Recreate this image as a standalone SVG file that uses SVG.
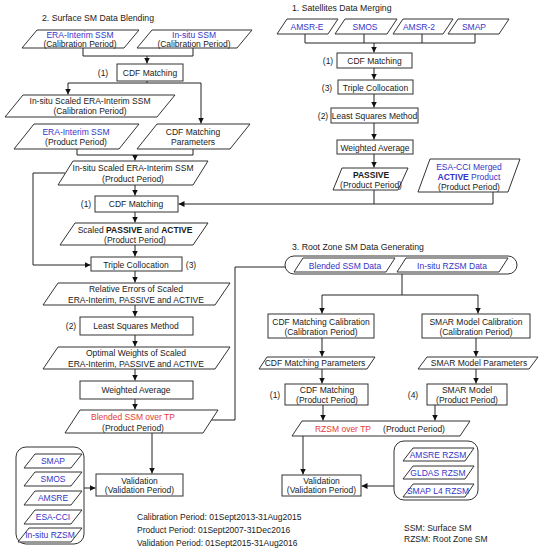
<svg xmlns="http://www.w3.org/2000/svg" width="545" height="550" viewBox="0 0 545 550">
<style>
text{font-family:"Liberation Sans",Arial,sans-serif;font-size:8.5px;fill:#1a1a1a;text-anchor:middle}
.t{font-size:8.7px;text-anchor:start}
.l{text-anchor:start}
.b{fill:#3535c8}
.r{fill:#e53a35}
.bd{font-weight:bold}
.s{fill:#fff;stroke:#333;stroke-width:1}
.c{fill:none;stroke:#222;stroke-width:1}
.a{fill:none;stroke:#222;stroke-width:1;marker-end:url(#ah)}
</style>
<defs>
<marker id="ah" viewBox="0 0 10 10" refX="10" refY="5" markerWidth="6" markerHeight="6" orient="auto" markerUnits="userSpaceOnUse"><path d="M0,0L10,5L0,10z" fill="#111"/></marker>
</defs>
<rect width="545" height="550" fill="#fff"/>

<text class="t" x="42" y="21">2. Surface SM Data Blending</text>
<text class="t" x="292" y="11">1. Satellites Data Merging</text>
<text class="t" x="292" y="250">3. Root Zone SM Data Generating</text>

<g id="connectors">
<path class="c" d="M83,48V56H193V48"/>
<path class="a" d="M147,56V63.5"/>
<path class="c" d="M147,81V83M68,83H201"/>
<path class="a" d="M68,83V94.5"/>
<path class="a" d="M201,83V123.5"/>
<path class="c" d="M77,149V155H193V149"/>
<path class="a" d="M135,155V160.5"/>
<path class="a" d="M65,173H33V265H90.5"/>
<path class="a" d="M135,185V195.5"/>
<path class="a" d="M135,212V222.5"/>
<path class="a" d="M135,245V256.5"/>
<path class="a" d="M135,271V282.5"/>
<path class="a" d="M135,305V316.5"/>
<path class="a" d="M135,335V346.5"/>
<path class="a" d="M135,369V380.5"/>
<path class="a" d="M135,399V409.5"/>
<path class="a" d="M152,433V473.5"/>
<path class="a" d="M84,488H95.5"/>
<path class="a" d="M211,420H235V267H295"/>
<path class="c" d="M305,34V43M364,34V43M422,34V43M475,34V43M305,43H475"/>
<path class="a" d="M374,43V52.5"/>
<path class="a" d="M374,68V79.5"/>
<path class="a" d="M374,94V107.5"/>
<path class="a" d="M374,123V139.5"/>
<path class="a" d="M374,154V167.5"/>
<path class="c" d="M374,190V204"/>
<path class="a" d="M493,192V204H178.5"/>
<path class="c" d="M402,274V295M322,295H478"/>
<path class="a" d="M322,295V313.5"/>
<path class="a" d="M478,295V313.5"/>
<path class="a" d="M322,338V356.5"/>
<path class="a" d="M476,338V356.5"/>
<path class="a" d="M322,369V383.5"/>
<path class="a" d="M476,369V383.5"/>
<path class="a" d="M323,405V420.5"/>
<path class="a" d="M435,405V420.5"/>
<path class="a" d="M303,436V474.5"/>
<path class="a" d="M394,486H361.5"/>
</g>

<!-- Section 2 -->
<g id="era-cal"><polygon class="s" points="37,30 139,30 124,48 22,48"/><text x="80" y="38" class="b">ERA-Interim SSM</text><text x="80" y="46.5">(Calibration Period)</text></g>
<g id="insitu-cal"><polygon class="s" points="152,30 252,30 237,48 137,48"/><text x="194" y="38" class="b">In-situ SSM</text><text x="194" y="46.5">(Calibration Period)</text></g>
<g id="cdf1"><rect class="s" x="117" y="64" width="66" height="17"/><text x="150" y="75.5">CDF Matching</text><text x="103" y="75.5">(1)</text></g>
<g id="scaled-cal"><polygon class="s" points="23,95 175,95 157,117 5,117"/><text x="90" y="104">In-situ Scaled ERA-Interim SSM</text><text x="90" y="114">(Calibration Period)</text></g>
<g id="era-prod"><polygon class="s" points="34,124 139,124 119,149 14,149"/><text x="76" y="135" class="b">ERA-Interim SSM</text><text x="76" y="145">(Product Period)</text></g>
<g id="cdf-params"><polygon class="s" points="157,124 250,124 230,149 137,149"/><text x="193" y="135">CDF Matching</text><text x="193" y="145">Parameters</text></g>
<g id="scaled-prod"><polygon class="s" points="73,161 208,161 193,185 58,185"/><text x="133" y="171">In-situ Scaled ERA-Interim SSM</text><text x="133" y="181.5">(Product Period)</text></g>
<g id="cdf2"><rect class="s" x="95" y="196" width="83" height="16"/><text x="136" y="207">CDF Matching</text><text x="86" y="207">(1)</text></g>
<g id="scaled-pa"><polygon class="s" points="75,223 208,223 193,245 60,245"/><text x="135" y="232.5">Scaled <tspan class="bd">PASSIVE</tspan> and <tspan class="bd">ACTIVE</tspan></text><text x="135" y="242.5">(Product Period)</text></g>
<g id="tc2"><rect class="s" x="91" y="257" width="91" height="14"/><text x="136" y="267.5">Triple Collocation</text><text x="191" y="268">(3)</text></g>
<g id="rel-err"><polygon class="s" points="58,283 230,283 215,305 43,305"/><text x="136" y="291.5">Relative Errors of Scaled</text><text x="136" y="302.5">ERA-Interim, PASSIVE and ACTIVE</text></g>
<g id="lsm2"><rect class="s" x="80" y="317" width="113" height="18"/><text x="136" y="329">Least Squares Method</text><text x="71" y="329">(2)</text></g>
<g id="opt-w"><polygon class="s" points="58,347 230,347 215,369 43,369"/><text x="136" y="355.5">Optimal Weights of Scaled</text><text x="136" y="366.5">ERA-Interim, PASSIVE and ACTIVE</text></g>
<g id="wa2"><rect class="s" x="80" y="381" width="113" height="18"/><text x="136" y="393">Weighted Average</text></g>
<g id="blended"><polygon class="s" points="80,410 218,410 203,433 65,433"/><text x="133" y="420" class="r">Blended SSM over TP</text><text x="133" y="430.5">(Product Period)</text></g>
<g id="valid1"><rect class="s" x="96" y="474" width="87" height="22"/><text x="139.5" y="483.5">Validation</text><text x="139.5" y="493">(Validation Period)</text></g>
<g id="refs1"><rect class="s" x="16" y="447" width="68" height="97" rx="10"/>
<polygon class="s" points="35,454 82,454 71,468 24,468"/><text x="53" y="464" class="b">SMAP</text>
<polygon class="s" points="35,472 82,472 71,486 24,486"/><text x="53" y="482" class="b">SMOS</text>
<polygon class="s" points="35,491 82,491 71,505 24,505"/><text x="53" y="501" class="b">AMSRE</text>
<polygon class="s" points="35,510 82,510 71,524 24,524"/><text x="53" y="520" class="b">ESA-CCI</text>
<polygon class="s" points="29,528 82,528 71,542 18,542"/><text x="50" y="538" class="b">In-situ RZSM</text></g>

<!-- Section 1 -->
<g id="amsre"><polygon class="s" points="287,19 338,19 328,34 277,34"/><text x="307" y="30" class="b">AMSR-E</text></g>
<g id="smos"><polygon class="s" points="345,19 397,19 387,34 335,34"/><text x="365" y="30" class="b">SMOS</text></g>
<g id="amsr2"><polygon class="s" points="403,19 453,19 443,34 393,34"/><text x="419" y="30" class="b">AMSR-2</text></g>
<g id="smap"><polygon class="s" points="458,19 509,19 499,34 448,34"/><text x="474" y="30" class="b">SMAP</text></g>
<g id="cdf0"><rect class="s" x="337" y="53" width="75" height="15"/><text x="374.5" y="64">CDF Matching</text><text x="328" y="64">(1)</text></g>
<g id="tc0"><rect class="s" x="338" y="80" width="75" height="14"/><text x="375.5" y="90.5">Triple Collocation</text><text x="327" y="90.5">(3)</text></g>
<g id="lsm0"><rect class="s" x="331" y="108" width="87" height="15"/><text x="374.5" y="119">Least Squares Method</text><text x="323" y="119">(2)</text></g>
<g id="wa0"><rect class="s" x="337" y="140" width="76" height="14"/><text x="375" y="150.5">Weighted Average</text></g>
<g id="passive"><polygon class="s" points="342,168 408,168 398,190 333,190"/><text x="371" y="177.5" class="bd">PASSIVE</text><text x="371" y="187.5">(Product Period)</text></g>
<g id="active"><polygon class="s" points="430,159 520,159 508,192 418,192"/><text x="469" y="170" class="b">ESA-CCI Merged</text><text x="469" y="180" class="b"><tspan class="bd">ACTIVE</tspan> Product</text><text x="469" y="189.5">(Product Period)</text></g>

<!-- Section 3 -->
<g id="inputs3"><rect class="s" x="285" y="256" width="232" height="18" rx="9"/>
<polygon class="s" points="303,258 395,258 386,272 294,272"/><text x="345" y="268.5" class="b">Blended SSM Data</text>
<polygon class="s" points="406,258 508,258 499,272 397,272"/><text x="452" y="268.5" class="b">In-situ RZSM Data</text></g>
<g id="cdf-cal"><rect class="s" x="268" y="314" width="106" height="24"/><text x="321" y="325">CDF Matching Calibration</text><text x="321" y="334.5">(Calibration Period)</text></g>
<g id="smar-cal"><rect class="s" x="422" y="314" width="108" height="24"/><text x="476" y="325">SMAR Model Calibration</text><text x="476" y="334.5">(Calibration Period)</text></g>
<g id="cdf-par3"><polygon class="s" points="267,357 375,357 367,369 259,369"/><text x="315" y="366">CDF Matching Parameters</text></g>
<g id="smar-par"><polygon class="s" points="427,357 538,357 529,369 418,369"/><text x="479" y="366">SMAR Model Parameters</text></g>
<g id="cdf3"><rect class="s" x="285" y="384" width="83" height="21"/><text x="327" y="393">CDF Matching</text><text x="327" y="402.5">(Product Period)</text><text x="275" y="398">(1)</text></g>
<g id="smar"><rect class="s" x="427" y="384" width="80" height="21"/><text x="467" y="393">SMAR Model</text><text x="467" y="402.5">(Product Period)</text><text x="413" y="398">(4)</text></g>
<g id="rzsm"><polygon class="s" points="302,421 470,421 460,436 292,436"/><text x="343" y="431.5" class="r">RZSM over TP</text><text x="414" y="431.5">(Product Period)</text></g>
<g id="valid2"><rect class="s" x="282" y="475" width="79" height="21"/><text x="321.5" y="484">Validation</text><text x="321.5" y="493">(Validation Period)</text></g>
<g id="refs2"><rect class="s" x="394" y="441" width="84" height="59" rx="10"/>
<polygon class="s" points="413,448 474,448 465,461 403,461"/><text x="438" y="458" class="b">AMSRE RZSM</text>
<polygon class="s" points="413,466 474,466 465,479 403,479"/><text x="438" y="476" class="b">GLDAS RZSM</text>
<polygon class="s" points="413,484 474,484 465,497 403,497"/><text x="438" y="494" class="b">SMAP L4 RZSM</text></g>

<g id="notes">
<text class="l" x="137" y="520">Calibration Period: 01Sept2013-31Aug2015</text>
<text class="l" x="137" y="533">Product Period: 01Sept2007-31Dec2016</text>
<text class="l" x="137" y="546">Validation Period: 01Sept2015-31Aug2016</text>
<text class="l" x="404" y="531">SSM: Surface SM</text>
<text class="l" x="404" y="542">RZSM: Root Zone SM</text>
</g>
</svg>
